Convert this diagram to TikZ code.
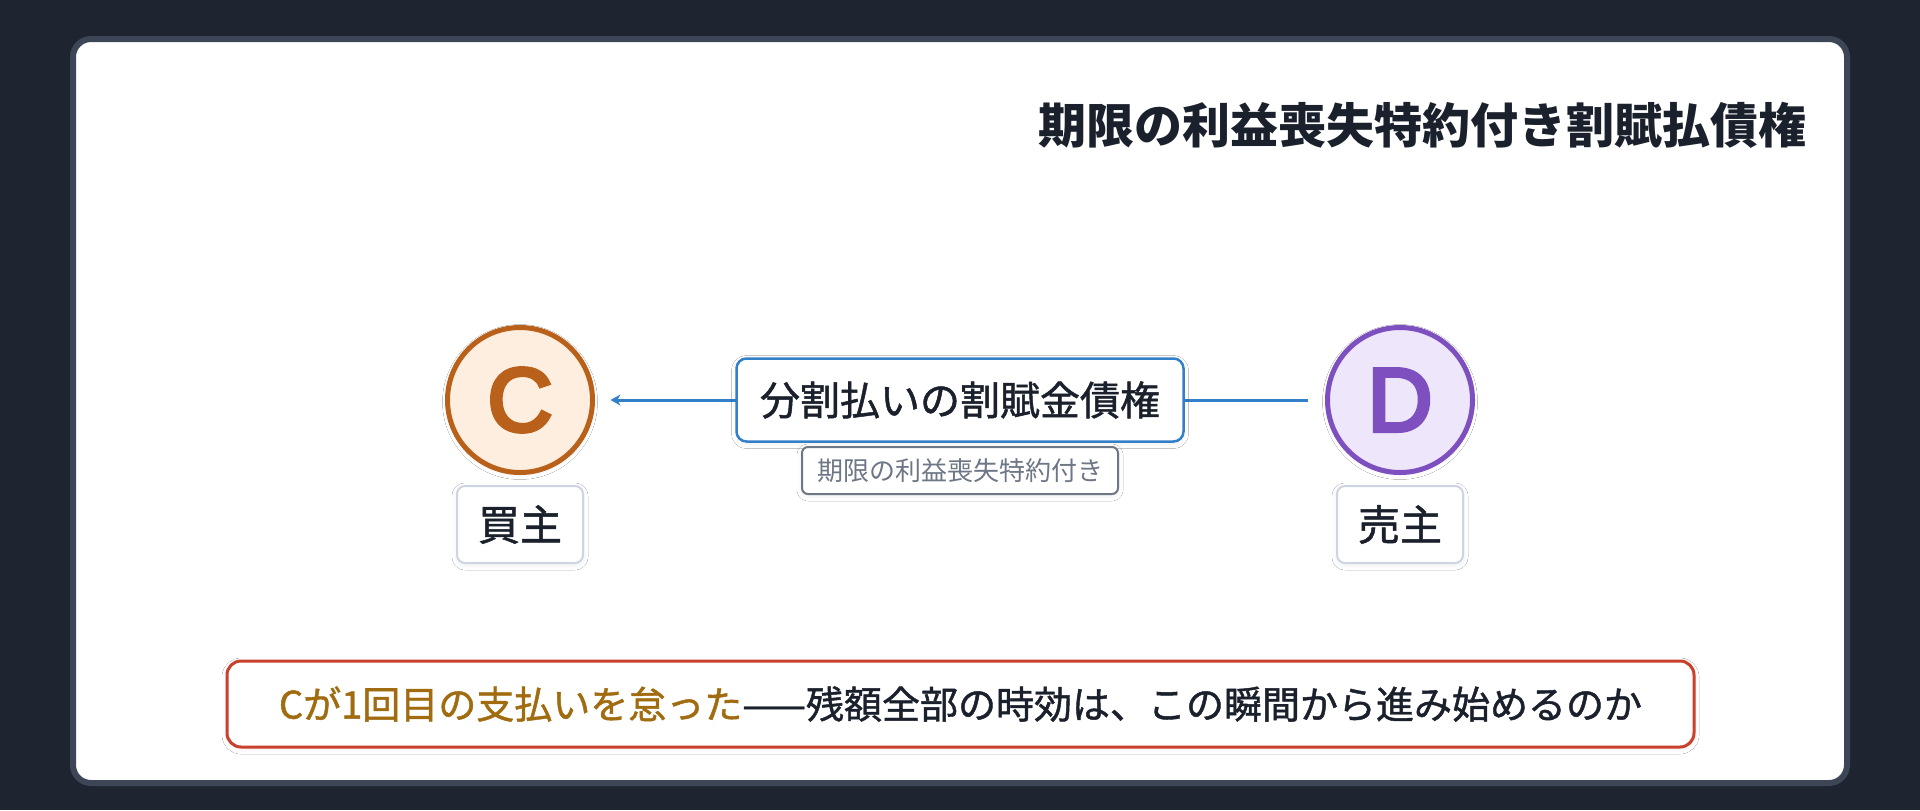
\documentclass[tikz,border=0pt]{standalone}
\usepackage{fontspec}
\setmainfont{Noto Sans CJK JP}
\newfontfamily\cjkmed{Noto Sans CJK JP}[FakeBold=1.2]
\newfontfamily\letterfont{Liberation Sans}[FakeBold=4.5]
\usetikzlibrary{positioning,arrows.meta,shadows.blur}

\definecolor{bgdark}{HTML}{1E2530}
\definecolor{panelrim}{HTML}{3D4656}
\definecolor{inkdark}{HTML}{1A202C}
\definecolor{buyerline}{HTML}{B9601A}
\definecolor{buyerfill}{HTML}{FDEEDF}
\definecolor{sellerline}{HTML}{7E4FBF}
\definecolor{sellerfill}{HTML}{EEE6FA}
\definecolor{claimblue}{HTML}{3380C8}
\definecolor{notegray}{HTML}{6E7786}
\definecolor{tagrim}{HTML}{CDD6E0}
\definecolor{askred}{HTML}{C9402C}
\definecolor{askgold}{HTML}{A16C10}

\tikzset{
  softshadow/.style={blur shadow={shadow xshift=0pt, shadow yshift=-1pt,
    shadow blur radius=2.5pt, shadow opacity=7}},
  party/.style={circle, draw, line width=2.5pt, minimum size=72.5pt, inner sep=0pt,
    font=\letterfont\fontsize{45}{45}\selectfont, softshadow},
  roletag/.style={draw=tagrim, fill=white, line width=1pt, rounded corners=4pt,
    minimum width=63pt, minimum height=38.5pt, inner sep=0pt,
    font=\cjkmed\fontsize{21}{21}\selectfont, text=inkdark, softshadow},
  claimbox/.style={draw=claimblue, fill=white, line width=1.25pt, rounded corners=5pt,
    minimum width=223.5pt, minimum height=41.5pt, inner sep=0pt,
    font=\cjkmed\fontsize{20}{20}\selectfont, text=inkdark, softshadow},
  notebox/.style={draw=notegray, fill=white, line width=1pt, rounded corners=3pt,
    minimum width=158pt, minimum height=23.5pt, inner sep=0pt,
    font=\fontsize{13}{13}\selectfont, text=notegray, softshadow},
  askbox/.style={draw=askred, fill=white, line width=1.5pt, rounded corners=7pt,
    minimum width=733.5pt, minimum height=43pt, inner sep=0pt,
    font=\cjkmed\fontsize{19}{19}\selectfont, text=inkdark, softshadow},
  claimarrow/.style={draw=claimblue, line width=1.5pt,
    -{Stealth[length=5pt, width=5.5pt]}, shorten <=8.75pt, shorten >=7.75pt}
}

\begin{document}
\begin{tikzpicture}[x=0.5pt, y=-0.5pt]
  % Frame
  \useasboundingbox (0,0) rectangle (1920,810);
  \fill[bgdark] (0,0) rectangle (1920,810);
  \filldraw[fill=white, draw=panelrim, line width=3pt, rounded corners=9pt]
    (73,39) rectangle (1847,783);

  % Title
  \node[anchor=east, inner sep=0pt, font=\fontsize{24}{24}\selectfont\bfseries, text=inkdark]
    (title) at (1807,125) {期限の利益喪失特約付き割賦払債権};

  % Parties
  \node[party, draw=buyerline, fill=buyerfill, text=buyerline] (C) at (520,400) {C};
  \node[party, draw=sellerline, fill=sellerfill, text=sellerline] (D) at (1400,400) {D};
  \node[roletag] (buyer) at (520,524.5) {買主};
  \node[roletag] (seller) at (1400,524.5) {売主};

  % Claim
  \draw[claimarrow] (D) -- (C);
  \node[claimbox] (claim) at (960,400) {分割払いの割賦金債権};
  \node[notebox] (clause) at (960,470.5) {期限の利益喪失特約付き};

  % Question
  \node[askbox] (ask) at (960.5,704)
    {{\color{askgold}Cが1回目の支払いを怠った}——残額全部の時効は、この瞬間から進み始めるのか};
\end{tikzpicture}
\end{document}
